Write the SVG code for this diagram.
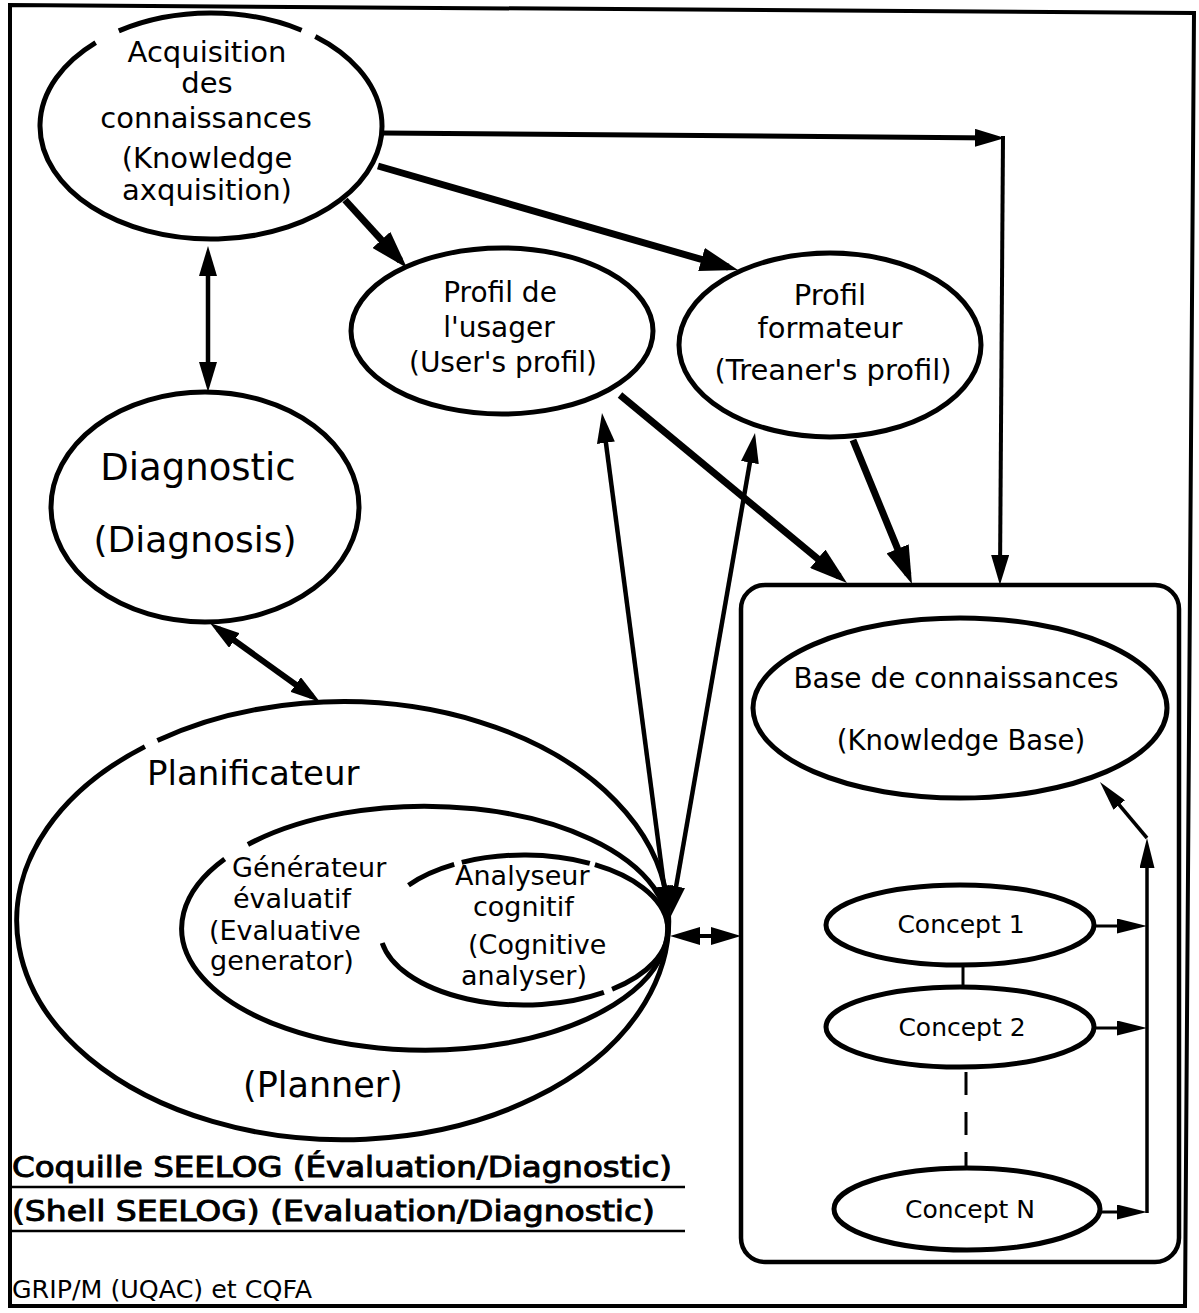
<svg xmlns="http://www.w3.org/2000/svg" width="1199" height="1313" viewBox="0 0 1199 1313">
  <style>
    .ol { fill: none; stroke: #000; stroke-width: 5; }
    .frame { fill: none; stroke: #000; stroke-width: 4; stroke-linejoin: miter; }
    .t { font-family: "DejaVu Sans", "Liberation Sans", sans-serif; fill: #000; text-anchor: middle; }
    .ts { font-family: "DejaVu Sans", "Liberation Sans", sans-serif; fill: #000; }
    .tb { font-family: "DejaVu Sans Condensed", "DejaVu Sans", sans-serif; fill: #000; stroke: #000; stroke-width: 0.9; }
    .c { fill: none; stroke: #000; stroke-linecap: butt; }
  </style>
  <defs>
    <marker id="big" markerUnits="userSpaceOnUse" viewBox="0 0 38 24" refX="28" refY="12" markerWidth="38" markerHeight="24" orient="auto-start-reverse">
      <path d="M0,0 L38,12 L0,24 Z" fill="#000"/>
    </marker>
    <marker id="mid" markerUnits="userSpaceOnUse" viewBox="0 0 30 18" refX="20" refY="9" markerWidth="30" markerHeight="18" orient="auto-start-reverse">
      <path d="M0,0 L30,9 L0,18 Z" fill="#000"/>
    </marker>
    <marker id="small" markerUnits="userSpaceOnUse" viewBox="0 0 30 15" refX="20" refY="7.5" markerWidth="30" markerHeight="15" orient="auto-start-reverse">
      <path d="M0,0 L30,7.5 L0,15 Z" fill="#000"/>
    </marker>
  </defs>

  <rect x="0" y="0" width="1199" height="1313" fill="#fff"/>

  <!-- outer frame -->
  <path class="frame" d="M10,5 L1194,13 L1185,1306 L10,1306 Z"/>

  <!-- Acquisition des connaissances -->
  <g id="acquisition">
    <path class="ol" d="M315.3,36.5 A171,113 0 1 1 95.7,42.6"/>
    <path class="ol" d="M118.8,30.9 A171,113 0 0 1 301.6,30.2"/>
    <text class="t" font-size="29" x="207" y="62">Acquisition</text>
    <text class="t" font-size="29" x="207" y="93">des</text>
    <text class="t" font-size="29" x="206" y="128">connaissances</text>
    <text class="t" font-size="29" x="207" y="168">(Knowledge</text>
    <text class="t" font-size="29" x="207" y="200">axquisition)</text>
  </g>

  <!-- Diagnostic -->
  <g id="diagnostic">
    <ellipse class="ol" cx="205" cy="507" rx="154" ry="115"/>
    <text class="t" font-size="37" x="198" y="480">Diagnostic</text>
    <text class="t" font-size="36" x="195" y="552">(Diagnosis)</text>
  </g>

  <!-- Profil de l'usager -->
  <g id="profil-usager">
    <ellipse class="ol" cx="502" cy="331" rx="151" ry="83"/>
    <text class="t" font-size="28" x="500" y="302">Profil de</text>
    <text class="t" font-size="28" x="499" y="337">l'usager</text>
    <text class="t" font-size="28" x="503" y="372">(User's profil)</text>
  </g>

  <!-- Profil formateur -->
  <g id="profil-formateur">
    <ellipse class="ol" cx="830" cy="345" rx="151" ry="92"/>
    <text class="t" font-size="29" x="830" y="305">Profil</text>
    <text class="t" font-size="29" x="830" y="338">formateur</text>
    <text class="t" font-size="29" x="833" y="380">(Treaner's profil)</text>
  </g>

  <!-- Planificateur with its two inner modules -->
  <g id="planificateur">
    <path class="ol" d="M157.4,740.5 A326,219 0 1 1 144.9,746.6"/>
    <text class="ts" font-size="34" x="147" y="785">Planificateur</text>
    <text class="ts" font-size="35" x="243" y="1097">(Planner)</text>
  </g>

  <g id="generateur">
    <path class="ol" d="M247.9,844.5 A243,122 0 1 1 224.7,858.9"/>
    <text class="ts" font-size="27" x="232" y="877">Générateur</text>
    <text class="ts" font-size="27" x="233" y="908">évaluatif</text>
    <text class="ts" font-size="27" x="209" y="940">(Evaluative</text>
    <text class="ts" font-size="27" x="210" y="970">generator)</text>
  </g>

  <g id="analyseur">
    <path class="ol" d="M408.5,885.2 A144,75 0 0 1 454.2,864.4"/>
    <path class="ol" d="M461.8,862.4 A144,75 0 0 1 589.8,863.3"/>
    <path class="ol" d="M594.9,864.7 A144,75 0 0 1 612.1,989.3"/>
    <path class="ol" d="M603.9,992.4 A144,75 0 0 1 382.2,943.0"/>
    <text class="ts" font-size="27" x="455" y="885">Analyseur</text>
    <text class="ts" font-size="27" x="473" y="916">cognitif</text>
    <text class="ts" font-size="27" x="468" y="954">(Cognitive</text>
    <text class="ts" font-size="27" x="461" y="985">analyser)</text>
  </g>

  <!-- Base de connaissances -->
  <g id="base-connaissances">
    <rect x="741" y="585" width="438" height="677" rx="24" fill="none" stroke="#000" stroke-width="4.5"/>
    <ellipse class="ol" cx="960" cy="708" rx="207" ry="90"/>
    <text class="t" font-size="28" x="956" y="688">Base de connaissances</text>
    <text class="t" font-size="27.5" x="961" y="750">(Knowledge Base)</text>
  </g>

  <g id="concept-1">
    <ellipse class="ol" cx="960" cy="925" rx="134" ry="40"/>
    <text class="t" font-size="25" x="961" y="933">Concept 1</text>
  </g>
  <g id="concept-2">
    <ellipse class="ol" cx="960" cy="1027" rx="134" ry="40"/>
    <text class="t" font-size="25" x="962" y="1036">Concept 2</text>
  </g>
  <g id="concept-n">
    <ellipse class="ol" cx="967" cy="1209" rx="133" ry="41"/>
    <text class="t" font-size="25" x="970" y="1218">Concept N</text>
  </g>

  <!-- connectors -->
  <g id="connectors">
    <line class="c" stroke-width="5" x1="383" y1="133" x2="995" y2="138" marker-end="url(#mid)"/>
    <line class="c" stroke-width="4" x1="1003" y1="136" x2="1000" y2="575" marker-end="url(#mid)"/>
    <line class="c" stroke-width="7" x1="345" y1="200" x2="400.3" y2="260.6" marker-end="url(#big)"/>
    <line class="c" stroke-width="7" x1="378" y1="166" x2="728.4" y2="267.2" marker-end="url(#big)"/>
    <line class="c" stroke-width="4.5" x1="208" y1="256" x2="208" y2="382" marker-start="url(#mid)" marker-end="url(#mid)"/>
    <line class="c" stroke-width="6" x1="218.1" y1="628.8" x2="311.9" y2="696.2" marker-start="url(#mid)" marker-end="url(#mid)"/>
    <line class="c" stroke-width="7" x1="620" y1="395" x2="839.3" y2="576.6" marker-end="url(#big)"/>
    <line class="c" stroke-width="7" x1="853" y1="440" x2="908.2" y2="574.7" marker-end="url(#big)"/>
    <line class="c" stroke-width="4.5" x1="603.3" y1="422.9" x2="666.7" y2="906.1" marker-start="url(#mid)" marker-end="url(#mid)"/>
    <line class="c" stroke-width="4.5" x1="753.3" y1="442.9" x2="672.7" y2="906.1" marker-start="url(#mid)" marker-end="url(#mid)"/>
    <line class="c" stroke-width="4" x1="680" y1="936" x2="731" y2="936" marker-start="url(#mid)" marker-end="url(#mid)"/>
    <line class="c" stroke-width="3" x1="1094" y1="926" x2="1137" y2="926" marker-end="url(#small)"/>
    <line class="c" stroke-width="3" x1="1094" y1="1028" x2="1137" y2="1028" marker-end="url(#small)"/>
    <line class="c" stroke-width="3" x1="1100" y1="1212" x2="1137" y2="1212" marker-end="url(#small)"/>
    <line class="c" stroke-width="3.5" x1="1147" y1="1213" x2="1147" y2="848" marker-end="url(#small)"/>
    <line class="c" stroke-width="3.5" x1="1147" y1="838" x2="1106.4" y2="789.7" marker-end="url(#small)"/>
    <line class="c" stroke-width="3" x1="963" y1="965" x2="963" y2="987"/>
    <line class="c" stroke-width="3" x1="966" y1="1072" x2="966" y2="1166" stroke-dasharray="23 17"/>
  </g>

  <!-- captions -->
  <g id="captions">
    <text class="tb" font-size="29" x="12" y="1177" textLength="660" lengthAdjust="spacingAndGlyphs">Coquille SEELOG (Évaluation/Diagnostic)</text>
    <line x1="12" y1="1187" x2="685" y2="1187" stroke="#000" stroke-width="2.5"/>
    <text class="tb" font-size="29" x="12" y="1221" textLength="643" lengthAdjust="spacingAndGlyphs">(Shell SEELOG) (Evaluation/Diagnostic)</text>
    <line x1="12" y1="1231" x2="685" y2="1231" stroke="#000" stroke-width="2.5"/>
    <text class="ts" font-size="24" x="12" y="1298" textLength="300" lengthAdjust="spacingAndGlyphs">GRIP/M (UQAC) et CQFA</text>
  </g>
</svg>
